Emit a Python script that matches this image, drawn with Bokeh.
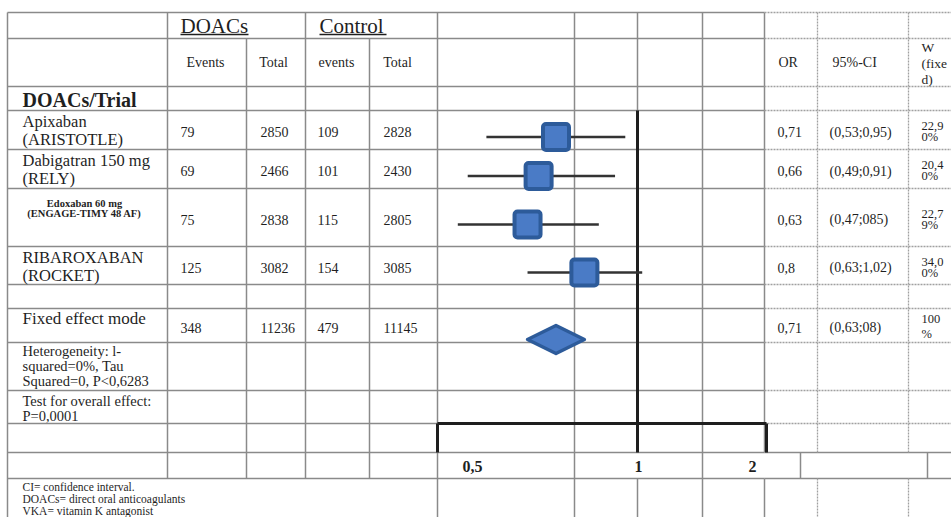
import math
from bokeh.plotting import figure
from bokeh.models import Range1d, LogScale, ColumnDataSource
from bokeh.core.properties import value
from bokeh.embed import file_html
from bokeh.resources import INLINE

# ---------------- data ----------------
trial_name = ["Apixaban", "Dabigatran 150 mg", "Edoxaban 60 mg", "RIBAROXABAN"]
trial_sub = ["(ARISTOTLE)", "(RELY)", "(ENGAGE-TIMY 48 AF)", "(ROCKET)"]
doac_events = [79, 69, 75, 125]
doac_total = [2850, 2466, 2838, 3082]
ctrl_events = [109, 101, 115, 154]
ctrl_total = [2828, 2430, 2805, 3085]
odds_ratio = [0.71, 0.66, 0.63, 0.80]
ci_low = [0.53, 0.49, 0.47, 0.63]
ci_high = [0.95, 0.91, 0.85, 1.02]
or_label = ["0,71", "0,66", "0,63", "0,8"]
ci_label = ["(0,53;0,95)", "(0,49;0,91)", "(0,47;085)", "(0,63;1,02)"]
weight_top = ["22,9", "20,4", "22,7", "34,0"]
weight_bottom = ["0%", "0%", "9%", "0%"]

pooled_counts = [348, 11236, 479, 11145]
pooled_or = [0.71]
pooled_low = [0.63]
pooled_high = [0.80]
pooled_or_label = "0,71"
pooled_ci_label = "(0,63;08)"
pooled_weight = ["100", "%"]

axis_tick_labels = ["0,5", "1", "2"]
header_group = ["DOACs", "Control"]
header_cols = ["Events", "Total", "events", "Total"]
header_right = ["OR", "95%-CI"]
header_weight = ["W", "(fixe", "d)"]
heterogeneity = ["Heterogeneity: l-", "squared=0%, Tau", "Squared=0, P<0,6283"]
overall = ["Test for overall effect:", "P=0,0001"]
footnotes = ["CI= confidence interval.", "DOACs= direct oral anticoagulants",
             "VKA= vitamin K antagonist"]

# ---------------- layout (table geometry, styles) ----------------
W, H = 951, 517
FONT = "Liberation Serif"
TEXT = "#1f1f1f"
GRID = "#8a8a8a"
BLUE_FILL = "#4a7bc6"
BLUE_LINE = "#2d5b9a"

X0 = 7
COL = dict(name=167, tot1=246, ev2=305, tot2=369, plot=437, a=574, ref=637, b=702,
           orc=764, ci=817, w=908)
ROWS = [12, 38, 86, 110, 149, 188, 246, 284, 308, 342, 390, 423, 452, 478]
trial_rows = [(110, 149), (149, 188), (188, 246), (246, 284)]
pooled_row = (308, 342)
NUM_X = [180, 260, 317, 383]
# log-scale calibration of the forest panel: OR=1 on the reference column
PX_PER_LN = 238.0
REF_X = COL["ref"]

p = figure(width=W, height=H, x_range=Range1d(0, W), y_range=Range1d(H, 0),
           x_axis_type=None, y_axis_type=None, output_backend="svg",
           toolbar_location=None, min_border=0)
p.grid.visible = False
p.outline_line_color = None
p.background_fill_color = "white"
p.border_fill_color = "white"
p.extra_x_ranges = {"or": Range1d(start=math.exp((0 - REF_X) / PX_PER_LN),
                                  end=math.exp((W - REF_X) / PX_PER_LN))}
p.extra_x_scales = {"or": LogScale()}

# ---------------- grid ----------------
solid = []  # (x0, y0, x1, y1)
for y in ROWS:
    solid.append((X0, y, COL["orc"], y))
for y in (452, 478):
    solid.append((COL["orc"], y, W, y))
solid += [
    (X0, 12, X0, H), (COL["name"], 12, COL["name"], 478),
    (COL["tot1"], 38, COL["tot1"], 478), (COL["ev2"], 12, COL["ev2"], 478),
    (COL["tot2"], 38, COL["tot2"], 478), (COL["plot"], 12, COL["plot"], H),
    (COL["a"], 12, COL["a"], H), (COL["ref"], 12, COL["ref"], 110),
    (COL["ref"], 478, COL["ref"], H), (COL["b"], 12, COL["b"], H),
    (COL["orc"], 12, COL["orc"], 452), (COL["orc"], 478, COL["orc"], H),
    (800, 452, 800, 478), (927, 452, 927, 478),
]
dotted = []
for y in ROWS[:-2]:
    dotted.append((COL["orc"], y, W, y))
for c in ("ci", "w"):
    dotted += [(COL[c], 12, COL[c], 452), (COL[c], 478, COL[c], H)]

def segs(lst, **kw):
    src = ColumnDataSource(dict(x0=[s[0] for s in lst], y0=[s[1] for s in lst],
                                x1=[s[2] for s in lst], y1=[s[3] for s in lst]))
    p.segment("x0", "y0", "x1", "y1", source=src, **kw)

segs(solid, line_color=GRID, line_width=1.5)
segs(dotted, line_color="#a0a0a0", line_width=1.3, line_dash="2 1")

# bracket axis of the forest panel
segs([(COL["plot"], 423, 766, 423), (COL["plot"], 423, COL["plot"], 452),
      (766, 423, 766, 452)], line_color="#1e1e1e", line_width=3)

# ---------------- text helper ----------------
def put_text(xs, ys, texts, size, style="normal", align="left", color=TEXT):
    src = ColumnDataSource(dict(x=list(xs), y=list(ys), t=list(texts)))
    p.text(x="x", y="y", text="t", source=src, text_font=value(FONT),
           text_font_size=value(f"{size}px"), text_font_style=style,
           text_align=align, text_baseline="middle", text_color=color)

# header
put_text([180, 319], [25, 25], header_group, 21)
segs([(180, 34, 248, 34), (319, 34, 386, 34)], line_color=TEXT, line_width=1.3)
put_text([205, 273, 336, 397], [62] * 4, header_cols, 14, align="center")
put_text([778, 832], [62, 62], header_right, 14)
put_text([921] * 3, [47, 63, 79], header_weight, 13.5)
put_text([22], [99], ["DOACs/Trial"], 20, style="bold")

# trial rows
centers = [(a + b) / 2 for a, b in trial_rows]
for i, (top, bot) in enumerate(trial_rows):
    if i == 2:
        put_text([84, 84], [top + 15, top + 25], [trial_name[i], trial_sub[i]], 10.5,
                 style="bold", align="center")
    else:
        put_text([22, 22], [top + 11, top + 29], [trial_name[i], trial_sub[i]], 16.5)
num_y = [c + 2 for c in centers]
for k, col in enumerate([doac_events, doac_total, ctrl_events, ctrl_total]):
    put_text([NUM_X[k]] * 4, num_y, [str(v) for v in col], 14)
put_text([777] * 4, num_y, or_label, 14)
put_text([829] * 4, num_y, ci_label, 14)
put_text([921] * 4, [c - 4 for c in centers], weight_top, 12.5)
put_text([921] * 4, [c + 7 for c in centers], weight_bottom, 12.5)

# pooled row
pc = (pooled_row[0] + pooled_row[1]) / 2
put_text([22], [pc - 7], ["Fixed effect mode"], 17)
put_text(NUM_X, [pc + 2] * 4, [str(v) for v in pooled_counts], 14)
put_text([777, 829], [pc + 2] * 2, [pooled_or_label, pooled_ci_label], 14)
put_text([921, 921], [pc - 7, pc + 8], pooled_weight, 12.5)

# heterogeneity / overall effect
put_text([22] * 3, [350, 365, 380], heterogeneity, 14.5)
put_text([22] * 2, [400, 415], overall, 14.5)

# axis tick labels (bottom row of the table)
put_text([472, 638, 752], [466] * 3, axis_tick_labels, 16, style="bold", align="center")

# footnotes
put_text([22] * 3, [486, 498, 510], footnotes, 11.5)

# ---------------- forest marks (OR on log scale) ----------------
mark_y = [c + 7 for c in centers]
src = ColumnDataSource(dict(or_=odds_ratio, lo=ci_low, hi=ci_high, y=mark_y))
# reference line at OR = 1
p.segment(x0=[1.0], y0=[110], x1=[1.0], y1=[452], x_range_name="or",
          line_color="#1e1e1e", line_width=3)
p.segment(x0="lo", y0="y", x1="hi", y1="y", source=src, x_range_name="or",
          line_color="#333333", line_width=2.5)
p.rect(x="or_", y="y", width=26, height=26, width_units="screen",
       height_units="screen", source=src, x_range_name="or",
       fill_color=BLUE_FILL, line_color=BLUE_LINE, line_width=4, border_radius=3)

# pooled diamond
dy = pc + 14
half = 14
p.patch(x=[pooled_low[0], pooled_or[0], pooled_high[0], pooled_or[0]],
        y=[dy, dy - half, dy, dy + half], x_range_name="or",
        fill_color=BLUE_FILL, line_color=BLUE_LINE, line_width=3.5, line_join="round")

open("out.html", "w").write(file_html(p, INLINE))
